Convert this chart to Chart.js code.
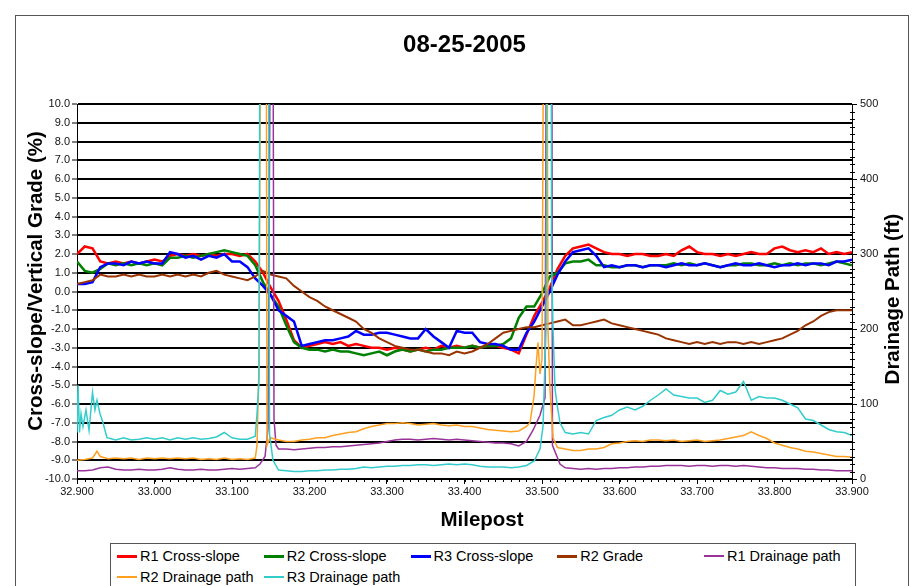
<!DOCTYPE html>
<html>
<head>
<meta charset="utf-8">
<title>08-25-2005</title>
<script src="https://cdn.jsdelivr.net/npm/chart.js@4.4.1/dist/chart.umd.min.js"></script>
<style>
  html, body { margin: 0; padding: 0; background: #fff; }
  body { position: relative; width: 912px; height: 586px; overflow: hidden; font-family: Arial, "Liberation Sans", sans-serif; }
  #frame { position: absolute; left: 15px; top: 15px; width: 894px; height: 600px; border: 1px solid #555; box-sizing: border-box; }
  canvas { position: absolute; left: 0; top: 0; }
  #legend { position: absolute; left: 110px; top: 543px; width: 746px; height: 60px; border: 1px solid #555; box-sizing: border-box; background: #fff;
            display: grid; grid-template-columns: repeat(5, 146.75px); grid-auto-rows: 21px; padding: 2px 0 0 6px; }
  .item { font-size: 14.5px; line-height: 21px; white-space: nowrap; color: #000; }
  .item span { display: inline-block; width: 20px; vertical-align: middle; margin-right: 3px; position: relative; top: -1px; }
</style>
</head>
<body>
<div id="frame"></div>
<canvas id="grafico" width="912" height="586"></canvas>
<div id="legend"></div>
<script>
const chartTitle = '08-25-2005';
const xTitle = 'Milepost';
const yTitle = 'Cross-slope/Vertical Grade (%)';
const y2Title = 'Drainage Path (ft)';

// milepost every 0.01 for the cross-slope / grade runs
const milepost = [
  32.90, 32.91, 32.92, 32.93, 32.94, 32.95, 32.96, 32.97, 32.98, 32.99,
  33.00, 33.01, 33.02, 33.03, 33.04, 33.05, 33.06, 33.07, 33.08, 33.09,
  33.10, 33.11, 33.12, 33.13, 33.14, 33.15, 33.16, 33.17, 33.18, 33.19,
  33.20, 33.21, 33.22, 33.23, 33.24, 33.25, 33.26, 33.27, 33.28, 33.29,
  33.30, 33.31, 33.32, 33.33, 33.34, 33.35, 33.36, 33.37, 33.38, 33.39,
  33.40, 33.41, 33.42, 33.43, 33.44, 33.45, 33.46, 33.47, 33.48, 33.49,
  33.50, 33.51, 33.52, 33.53, 33.54, 33.55, 33.56, 33.57, 33.58, 33.59,
  33.60, 33.61, 33.62, 33.63, 33.64, 33.65, 33.66, 33.67, 33.68, 33.69,
  33.70, 33.71, 33.72, 33.73, 33.74, 33.75, 33.76, 33.77, 33.78, 33.79,
  33.80, 33.81, 33.82, 33.83, 33.84, 33.85, 33.86, 33.87, 33.88, 33.89,
  33.90
];

const r1Cross = [
  2.0, 2.4, 2.3, 1.6, 1.5, 1.6, 1.5, 1.6, 1.5, 1.6,
  1.7, 1.6, 1.9, 2.0, 1.9, 2.0, 1.9, 2.0, 1.9, 2.0,
  2.0, 1.9, 2.0, 1.6, 1.0, 0.2, -0.5, -1.5, -2.6, -3.0,
  -2.9, -2.8, -2.7, -2.8, -2.7, -2.9, -2.8, -2.9, -3.0, -3.0,
  -3.1, -3.0, -3.1, -3.2, -3.1, -3.0, -3.1, -2.9, -3.0, -2.9,
  -3.0, -2.9, -3.0, -2.9, -2.9, -3.0, -3.1, -3.3, -2.3, -1.3,
  -0.6, 0.2, 1.2, 1.9, 2.3, 2.4, 2.5, 2.3, 2.1, 2.0,
  2.0, 1.9, 2.0, 2.0, 1.9, 1.9, 2.0, 1.9, 2.2, 2.4,
  2.1, 2.0, 2.0, 1.9, 2.0, 1.9, 2.0, 2.1, 2.0, 2.0,
  2.3, 2.4, 2.2, 2.1, 2.2, 2.1, 2.3, 2.0, 2.1, 2.0,
  2.1
];

const r2Cross = [
  1.6, 1.1, 1.0, 1.2, 1.5, 1.4, 1.5, 1.4, 1.5, 1.4,
  1.5, 1.4, 1.8, 1.8, 1.9, 1.8, 1.9, 2.0, 2.1, 2.2,
  2.1, 2.0, 1.9, 1.4, 0.5, -0.2, -0.8, -1.8, -2.7, -3.0,
  -3.1, -3.1, -3.2, -3.1, -3.2, -3.2, -3.3, -3.4, -3.3, -3.2,
  -3.4, -3.2, -3.1, -3.2, -3.1, -3.2, -3.1, -3.1, -3.0, -3.0,
  -3.0, -2.9, -3.0, -2.9, -2.9, -2.8, -2.5, -1.4, -0.8, -0.8,
  -0.1, 0.8, 1.0, 1.5, 1.6, 1.6, 1.7, 1.4, 1.4, 1.3,
  1.3, 1.4, 1.4, 1.3, 1.4, 1.4, 1.4, 1.5, 1.4, 1.5,
  1.4, 1.5, 1.4, 1.3, 1.4, 1.4, 1.5, 1.5, 1.4, 1.4,
  1.5, 1.4, 1.5, 1.4, 1.5, 1.5, 1.4, 1.5, 1.6, 1.5,
  1.4
];

const r3Cross = [
  0.4, 0.4, 0.5, 1.3, 1.5, 1.5, 1.4, 1.6, 1.5, 1.6,
  1.5, 1.5, 2.1, 2.0, 1.8, 1.9, 1.7, 1.9, 1.8, 2.0,
  1.6, 1.6, 1.3, 0.7, 0.3, -0.2, -1.0, -1.3, -1.6, -2.9,
  -2.8, -2.7, -2.6, -2.6, -2.5, -2.4, -2.1, -2.3, -2.3, -2.2,
  -2.2, -2.3, -2.4, -2.5, -2.5, -2.0, -2.4, -2.7, -3.0, -2.1,
  -2.2, -2.2, -2.7, -2.8, -2.8, -2.9, -3.1, -3.1, -2.2, -1.6,
  -0.8, 0.0, 0.9, 1.6, 2.1, 2.2, 2.3, 1.9, 1.3, 1.4,
  1.3, 1.4, 1.4, 1.3, 1.4, 1.4, 1.3, 1.4, 1.5, 1.4,
  1.4, 1.5, 1.4, 1.3, 1.4, 1.5, 1.4, 1.4, 1.5, 1.4,
  1.3, 1.4, 1.4, 1.5, 1.4, 1.5, 1.5, 1.4, 1.6, 1.6,
  1.7
];

const r2Grade = [
  0.4, 0.5, 0.6, 0.9, 0.8, 0.8, 0.9, 0.8, 0.9, 0.8,
  0.8, 0.9, 0.8, 0.9, 0.8, 0.9, 0.8, 1.0, 1.1, 0.9,
  0.8, 0.7, 0.6, 0.8, 1.1, 0.9, 0.8, 0.7, 0.3, 0.0,
  -0.3, -0.5, -0.8, -1.0, -1.2, -1.4, -1.6, -2.0, -2.2, -2.5,
  -2.7, -2.9, -3.0, -3.1, -3.1, -3.2, -3.3, -3.3, -3.4, -3.2,
  -3.3, -3.2, -3.0, -2.8, -2.5, -2.2, -2.1, -2.0, -1.9, -1.9,
  -1.8, -1.7, -1.6, -1.5, -1.8, -1.8, -1.7, -1.6, -1.5, -1.7,
  -1.8, -1.9, -2.0, -2.1, -2.2, -2.3, -2.5, -2.6, -2.7, -2.8,
  -2.7, -2.8, -2.7, -2.8, -2.7, -2.7, -2.8, -2.7, -2.8, -2.7,
  -2.6, -2.5, -2.3, -2.1, -1.8, -1.6, -1.3, -1.1, -1.0, -1.0,
  -1.0
];

// drainage path runs (ft) - denser mileposts around the two spikes
const r1DrainMp = [
  32.90, 32.91, 32.92, 32.93, 32.94, 32.95, 32.96, 32.97, 32.98, 32.99,
  33.00, 33.01, 33.02, 33.03, 33.04, 33.05, 33.06, 33.07, 33.08, 33.09,
  33.10, 33.11, 33.12, 33.13,
  33.1361, 33.1426, 33.1465, 33.1510, 33.1523, 33.1542, 33.1568,
  33.16, 33.17, 33.18, 33.19, 33.20, 33.21, 33.22, 33.23, 33.24, 33.25,
  33.26, 33.27, 33.28, 33.29, 33.30, 33.31, 33.32, 33.33, 33.34, 33.35,
  33.36, 33.37, 33.38, 33.39, 33.40, 33.41, 33.42, 33.43, 33.44, 33.45,
  33.46, 33.47, 33.48,
  33.4884, 33.4974, 33.5039, 33.5065, 33.5123, 33.5135, 33.5232,
  33.53, 33.54, 33.55, 33.56, 33.57, 33.58, 33.59, 33.60, 33.61, 33.62,
  33.63, 33.64, 33.65, 33.66, 33.67, 33.68, 33.69, 33.70, 33.71, 33.72,
  33.73, 33.74, 33.75, 33.76, 33.77, 33.78, 33.79, 33.80, 33.81, 33.82,
  33.83, 33.84, 33.85, 33.86, 33.87, 33.88, 33.89, 33.90
];
const r1Drain = [
  11, 11, 12, 15, 16, 13, 12, 12, 13, 12,
  12, 13, 15, 13, 12, 12, 13, 12, 12, 13,
  14, 13, 14, 15,
  20, 30, 68, 900, 900, 80, 45,
  40, 40, 39, 40, 41, 42, 42, 43, 43, 44,
  45, 46, 47, 48, 50, 52, 53, 53, 52, 53,
  54, 53, 52, 53, 52, 51, 50, 49, 48, 48,
  47, 44, 50,
  65, 85, 108, 900, 900, 45, 20,
  15, 14, 13, 14, 13, 14, 14, 15, 15, 16,
  16, 17, 17, 18, 18, 18, 17, 18, 18, 17,
  18, 18, 17, 18, 17, 16, 15, 15, 14, 14,
  14, 13, 13, 12, 12, 11, 11, 11
];

const r2DrainMp = [
  32.90, 32.91, 32.92, 32.9258, 32.93, 32.94, 32.95, 32.96, 32.97, 32.98,
  32.99, 33.00, 33.01, 33.02, 33.03, 33.04, 33.05, 33.06, 33.07, 33.08,
  33.09, 33.10, 33.11, 33.12, 33.13,
  33.1323, 33.1348, 33.1381, 33.1439, 33.1452, 33.1490,
  33.16, 33.17, 33.18, 33.19, 33.20, 33.21, 33.22, 33.23, 33.24, 33.25,
  33.26, 33.27, 33.28, 33.29, 33.30, 33.31, 33.32, 33.33, 33.34, 33.35,
  33.36, 33.37, 33.38, 33.39, 33.40, 33.41, 33.42, 33.43, 33.44, 33.45,
  33.46, 33.47, 33.48,
  33.4845, 33.4897, 33.4923, 33.4948, 33.4974, 33.5000, 33.5032, 33.5058, 33.5077, 33.5103, 33.5142,
  33.52, 33.53, 33.54, 33.55, 33.56, 33.57, 33.58, 33.59, 33.60, 33.61,
  33.62, 33.63, 33.64, 33.65, 33.66, 33.67, 33.68, 33.69, 33.70, 33.71,
  33.72, 33.73, 33.74, 33.75, 33.76, 33.77, 33.78, 33.79, 33.80, 33.81,
  33.82, 33.83, 33.84, 33.85, 33.86, 33.87, 33.88, 33.89, 33.90
];
const r2Drain = [
  25, 26, 28, 37, 30, 27, 28, 27, 28, 26,
  28, 27, 28, 27, 28, 27, 28, 26, 27, 26,
  28, 26, 27, 26, 28,
  45, 150, 900, 900, 45, 55,
  52, 50, 50, 52, 53, 55, 55, 58, 60, 62,
  63, 67, 70, 72, 74, 74, 75, 74, 72, 73,
  74, 72, 71, 72, 70, 70, 68, 66, 65, 64,
  63, 64, 70,
  75, 110, 150, 182, 140, 160, 900, 900, 200, 120, 55,
  42, 40, 38, 38, 40, 40, 42, 47, 48, 50,
  51, 50, 52, 52, 51, 52, 50, 51, 52, 50,
  51, 52, 54, 56, 58, 63, 58, 54, 48, 45,
  42, 40, 37, 36, 34, 32, 30, 30, 29
];

const r3DrainMp = [
  32.900, 32.9013, 32.9032, 32.9052, 32.9077, 32.9116, 32.9155, 32.9200, 32.9232, 32.9258,
  32.9297, 32.9335, 32.9387,
  32.95, 32.96, 32.97, 32.98, 32.99, 33.00, 33.01, 33.02, 33.03, 33.04,
  33.05, 33.06, 33.07, 33.08, 33.09, 33.10, 33.11, 33.12, 33.13,
  33.1323, 33.1348, 33.1368, 33.1465, 33.1484, 33.1529,
  33.16, 33.17, 33.18, 33.19, 33.20, 33.21, 33.22, 33.23, 33.24, 33.25,
  33.26, 33.27, 33.28, 33.29, 33.30, 33.31, 33.32, 33.33, 33.34, 33.35,
  33.36, 33.37, 33.38, 33.39, 33.40, 33.41, 33.42, 33.43, 33.44, 33.45,
  33.46, 33.47, 33.48, 33.49,
  33.4974, 33.5013, 33.5052, 33.5071, 33.5116, 33.5123, 33.5142, 33.5168, 33.5194, 33.5232,
  33.53, 33.54, 33.55, 33.56, 33.57, 33.58, 33.59, 33.60, 33.61, 33.62,
  33.63, 33.64, 33.65, 33.66, 33.67, 33.68, 33.69, 33.70, 33.71, 33.72,
  33.73, 33.74, 33.75, 33.76, 33.77, 33.78, 33.79, 33.80, 33.81, 33.82,
  33.83, 33.84, 33.85, 33.86, 33.87, 33.88, 33.89, 33.90
];
const r3Drain = [
  62, 125, 62, 87, 70, 92, 65, 115, 92, 105,
  87, 75, 55,
  52, 55, 52, 53, 55, 53, 55, 52, 55, 53,
  55, 53, 54, 56, 62, 55, 53, 53, 57,
  87, 132, 900, 900, 60, 25,
  12, 11, 10, 10, 11, 11, 12, 12, 13, 13,
  14, 16, 15, 16, 17, 17, 18, 18, 19, 19,
  18, 19, 20, 19, 20, 19, 17, 16, 16, 16,
  15, 16, 18, 24,
  40, 70, 200, 900, 900, 300, 200, 120, 100, 75,
  62, 60, 62, 60, 78, 82, 85, 92, 96, 92,
  97, 105, 112, 120, 112, 110, 108, 108, 102, 105,
  118, 113, 116, 130, 105, 110, 108, 108, 105, 100,
  95, 80, 78, 72, 66, 63, 62, 58
];

const fonte = "Arial, 'Liberation Sans', sans-serif";
Chart.defaults.font.family = fonte;
Chart.defaults.color = '#111';

const series = [
  { label: 'R1 Cross-slope', xs: milepost, ys: r1Cross, color: '#ff0000', width: 2.5, axis: 'y', order: 6 },
  { label: 'R2 Cross-slope', xs: milepost, ys: r2Cross, color: '#008000', width: 2.5, axis: 'y', order: 5 },
  { label: 'R3 Cross-slope', xs: milepost, ys: r3Cross, color: '#0000ff', width: 2.5, axis: 'y', order: 4 },
  { label: 'R2 Grade', xs: milepost, ys: r2Grade, color: '#993300', width: 2, axis: 'y', order: 3 },
  { label: 'R1 Drainage path', xs: r1DrainMp, ys: r1Drain, color: '#993399', width: 1.5, axis: 'y2', order: 2 },
  { label: 'R2 Drainage path', xs: r2DrainMp, ys: r2Drain, color: '#ffa020', width: 1.5, axis: 'y2', order: 1 },
  { label: 'R3 Drainage path', xs: r3DrainMp, ys: r3Drain, color: '#33cccc', width: 1.5, axis: 'y2', order: 0 }
];

const datasets = series.map(s => ({
  label: s.label,
  data: s.xs.map((m, i) => ({ x: m, y: s.ys[i] })),
  borderColor: s.color,
  backgroundColor: s.color,
  borderWidth: s.width,
  pointRadius: 0,
  tension: 0,
  yAxisID: s.axis,
  order: s.order
}));

// minor ticks + axis titles
const extras = {
  id: 'extras',
  afterDraw(chart) {
    const ctx = chart.ctx;
    const sx = chart.scales.x, sy2 = chart.scales.y2;
    ctx.save();
    ctx.strokeStyle = '#000';
    ctx.lineWidth = 1;
    ctx.beginPath();
    for (let i = 0; i <= 100; i++) {
      const px = Math.round(sx.getPixelForValue(32.9 + i * 0.01)) + 0.5;
      ctx.moveTo(px, sx.top);
      ctx.lineTo(px, sx.top + 3);
    }
    for (let v = 0; v <= 500; v += 10) {
      const py = Math.round(sy2.getPixelForValue(v)) + 0.5;
      ctx.moveTo(sy2.left - 2, py);
      ctx.lineTo(sy2.left + 3, py);
    }
    ctx.stroke();
    ctx.fillStyle = '#000';
    ctx.font = 'bold 20.5px ' + fonte;
    ctx.textAlign = 'center';
    ctx.textBaseline = 'middle';
    ctx.fillText(xTitle, 482, 520);
    ctx.save();
    ctx.translate(36, 281);
    ctx.rotate(-Math.PI / 2);
    ctx.fillText(yTitle, 0, 0);
    ctx.restore();
    ctx.translate(893, 299);
    ctx.rotate(-Math.PI / 2);
    ctx.fillText(y2Title, 0, 0);
    ctx.restore();
  }
};

const grafico = document.getElementById('grafico').getContext('2d');
const chart1 = new Chart(grafico, {
  type: 'line',
  data: { datasets },
  plugins: [extras],
  options: {
    responsive: false,
    animation: false,
    devicePixelRatio: 1,
    layout: { padding: 0 },
    plugins: {
      legend: { display: false },
      tooltip: { enabled: false },
      title: {
        display: true, text: chartTitle, color: '#000', fullSize: false,
        font: { size: 24, weight: 'bold' },
        padding: { top: 30.6, bottom: 44.6 }
      }
    },
    scales: {
      x: {
        type: 'linear', min: 32.9, max: 33.9,
        ticks: { stepSize: 0.1, maxRotation: 0, autoSkip: false, padding: 1, font: { size: 11 },
                 callback: v => v.toFixed(3) },
        grid: { drawOnChartArea: false, color: '#000', tickLength: 5, tickWidth: 1 },
        border: { color: '#000', width: 1 },
        afterFit: s => { s.height = 107; }
      },
      y: {
        position: 'left', min: -10, max: 10,
        ticks: { stepSize: 1, padding: 2, font: { size: 11 },
                 callback: v => (Math.abs(v) < 1e-9 ? 0 : v).toFixed(1) },
        grid: { color: '#000', lineWidth: 2, tickLength: 5, tickWidth: 1, tickColor: '#000' },
        border: { color: '#000', width: 1 },
        afterFit: s => { s.width = 77; }
      },
      y2: {
        position: 'right', min: 0, max: 500,
        ticks: { stepSize: 100, padding: 3, font: { size: 11 } },
        grid: { drawOnChartArea: false, color: '#000', tickLength: 5, tickWidth: 1 },
        border: { color: '#000', width: 1 },
        afterFit: s => { s.width = 60; }
      }
    }
  }
});

const legend = document.getElementById('legend');
series.forEach(s => {
  const item = document.createElement('div');
  item.className = 'item';
  const sw = document.createElement('span');
  sw.style.borderTop = (s.axis === 'y' ? 3 : 2) + 'px solid ' + s.color;
  item.appendChild(sw);
  item.appendChild(document.createTextNode(s.label));
  legend.appendChild(item);
});
</script>
</body>
</html>
